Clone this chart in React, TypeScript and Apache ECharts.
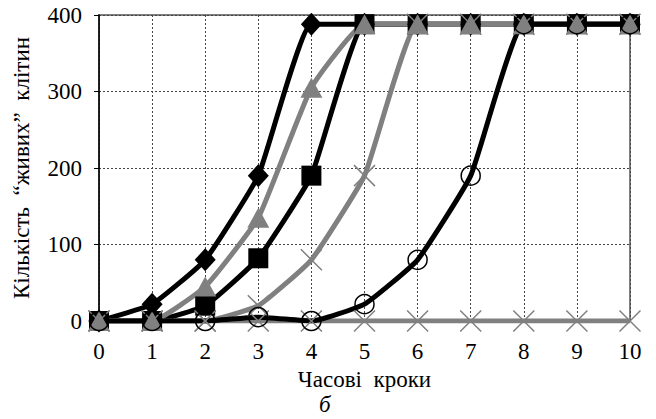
import React, { useEffect, useRef } from "react";
import * as echarts from "echarts";

const steps = [0, 1, 2, 3, 4, 5, 6, 7, 8, 9, 10];
const zeroSeries = [0, 0, 0, 0, 0, 0, 0, 0, 0, 0, 0];
const diamonds = [0, 22, 80, 190, 388, 388, 388, 388, 388, 388, 388];
const squares = [0, 0, 20, 82, 190, 388, 388, 388, 388, 388, 388];
const triangles = [0, 0, 45, 135, 305, 388, 388, 388, 388, 388, 388];
const crosses = [0, 0, 0, 20, 80, 190, 388, 388, 388, 388, 388];
const circles = [0, 0, 0, 5, 0, 22, 80, 190, 388, 388, 388];
const yTicks = [0, 100, 200, 300, 400];

const FONT = "Liberation Serif";
const FS = 23;
const GRAY = "#808080";
const X_PATH = "path://M0,0L10,10M10,0L0,10";

function pairs(vals: number[]) {
  return steps.map((s, i) => [s, vals[i]]);
}

export default function App() {
  const ref = useRef<HTMLDivElement>(null);
  useEffect(() => {
    if (!ref.current) return;
    const chart = echarts.init(ref.current, undefined, { renderer: "svg" });
    const lineCommon = { type: "line", smooth: 0.13, z: 2 } as any;
    chart.setOption({
      animation: false,
      backgroundColor: "#fff",
      textStyle: { fontFamily: FONT, fontSize: FS },
      grid: {
        left: 99,
        right: 26,
        top: 15,
        bottom: 98,
        show: true,
        borderColor: GRAY,
        borderWidth: 2,
      },
      xAxis: {
        type: "value",
        min: 0,
        max: 10,
        interval: 1,
        name: "Часові  кроки",
        nameLocation: "middle",
        nameGap: 46,
        nameTextStyle: { fontFamily: FONT, fontSize: FS, color: "#000" },
        axisLine: { show: true, lineStyle: { color: "#000", width: 1.5 } },
        axisTick: { show: false },
        axisLabel: { fontFamily: FONT, fontSize: FS, color: "#000", margin: 19 },
        splitLine: { show: true, lineStyle: { color: "#444", width: 1, type: [2, 2] } },
      },
      yAxis: {
        type: "value",
        min: 0,
        max: 400,
        interval: 100,
        name: "Кількість  “живих”  клітин",
        nameLocation: "middle",
        nameGap: 66,
        nameTextStyle: { fontFamily: FONT, fontSize: FS, color: "#000" },
        axisLine: { show: true, lineStyle: { color: "#000", width: 1.5 } },
        axisTick: { show: true, inside: false, length: 5, lineStyle: { color: "#000" } },
        axisLabel: {
          fontFamily: FONT,
          fontSize: FS,
          color: "#000",
          margin: 17,
          formatter: (v: number) => (yTicks.includes(v) ? String(v) : ""),
        },
        splitLine: { show: true, lineStyle: { color: "#444", width: 1, type: [2, 2] } },
      },
      graphic: [
        {
          type: "text",
          left: 319,
          top: 393,
          style: { text: "б", fontFamily: FONT, fontSize: FS, fontStyle: "italic", fill: "#000" },
        },
      ],
      series: [
        {
          ...lineCommon,
          name: "zero",
          data: pairs(zeroSeries),
          symbol: X_PATH,
          symbolSize: 21,
          lineStyle: { color: GRAY, width: 5 },
          itemStyle: { color: "none", borderColor: GRAY, borderWidth: 1.5 },
        },
        {
          ...lineCommon,
          name: "diamonds",
          data: pairs(diamonds),
          symbol: "diamond",
          symbolSize: [21, 23],
          lineStyle: { color: "#000", width: 5 },
          itemStyle: { color: "#000" },
        },
        {
          ...lineCommon,
          name: "squares",
          data: pairs(squares),
          symbol: "rect",
          symbolSize: 20,
          lineStyle: { color: "#000", width: 5 },
          itemStyle: { color: "#000" },
        },
        {
          ...lineCommon,
          name: "triangles",
          data: pairs(triangles),
          symbol: "triangle",
          symbolSize: [22, 20],
          lineStyle: { color: GRAY, width: 5 },
          itemStyle: { color: GRAY },
        },
        {
          ...lineCommon,
          name: "crosses",
          data: pairs(crosses),
          symbol: X_PATH,
          symbolSize: 21,
          lineStyle: { color: GRAY, width: 5 },
          itemStyle: { color: "none", borderColor: GRAY, borderWidth: 1.5 },
        },
        {
          ...lineCommon,
          name: "circles",
          data: pairs(circles),
          symbol: "circle",
          symbolSize: 19,
          lineStyle: { color: "#000", width: 5 },
          itemStyle: { color: "rgba(0,0,0,0)", borderColor: "#000", borderWidth: 1.5 },
        },
      ],
    });
    return () => chart.dispose();
  }, []);
  return <div ref={ref} style={{ width: 656, height: 419, position: "absolute", left: 0, top: 0 }} />;
}
